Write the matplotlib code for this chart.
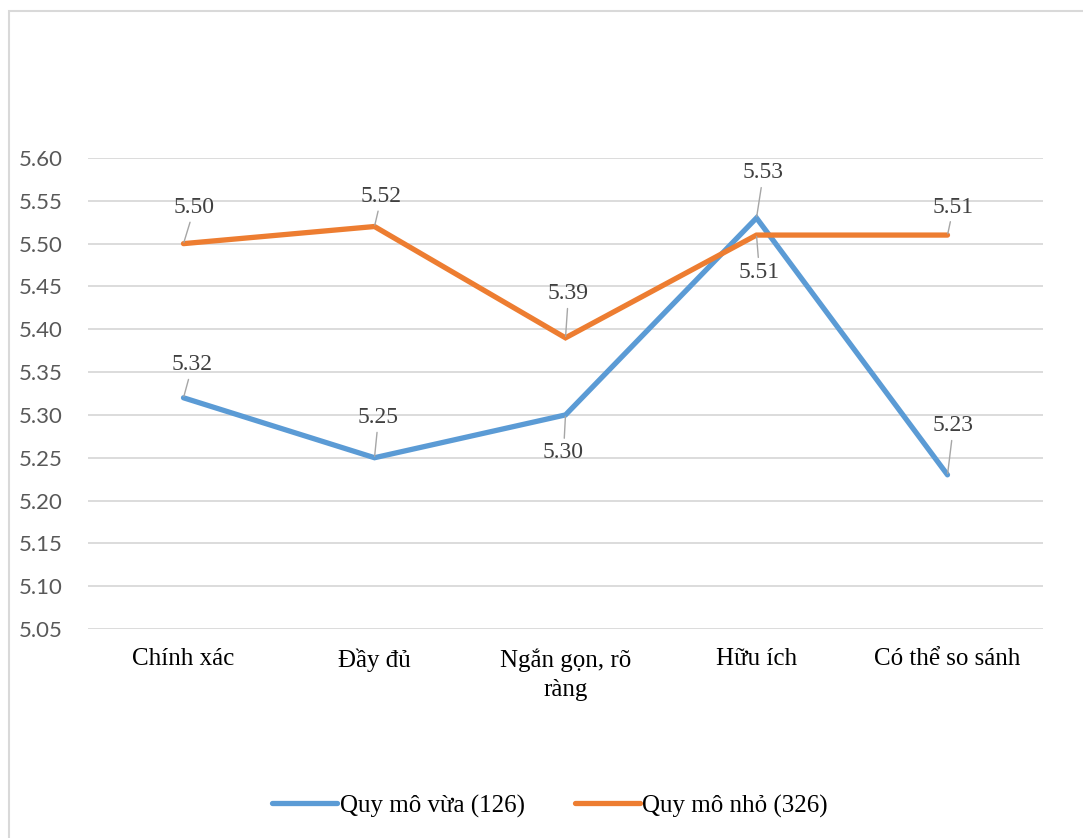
import matplotlib.pyplot as plt
from matplotlib.patches import Rectangle

# Dữ liệu biểu đồ
categories = ["Chính xác", "Đầy đủ", "Ngắn gọn, rõ\nràng", "Hữu ích", "Có thể so sánh"]
quy_mo_vua = [5.32, 5.25, 5.30, 5.53, 5.23]
quy_mo_nho = [5.50, 5.52, 5.39, 5.51, 5.51]
series_names = ["Quy mô vừa (126)", "Quy mô nhỏ (326)"]
y_ticks = [5.05, 5.10, 5.15, 5.20, 5.25, 5.30, 5.35, 5.40, 5.45, 5.50, 5.55, 5.60]

# Vị trí nhãn dữ liệu (pixel, tính từ điểm)
offsets_vua = [(9, 33), (4, 40), (-2, -38), (7, 45), (6, 49)]
offsets_nho = [(11, 36), (7, 30), (3, 44), (3, -37), (6, 28)]

serif = "Liberation Serif"
blue = "#5B9BD5"
orange = "#ED7D31"

fig = plt.figure(figsize=(10.83, 8.38), dpi=100)
ax = fig.add_axes([88 / 1083, 1 - 629 / 838, 955 / 1083, 471 / 838])

# Khung viền của biểu đồ
fig.patches.append(Rectangle((9 / 1083, -0.05), 1.1, 1 - 11 / 838 + 0.05,
                             transform=fig.transFigure, fill=False,
                             edgecolor="#D9D9D9", linewidth=1.5))

x = range(len(categories))
ax.plot(x, quy_mo_vua, color=blue, lw=3.8, solid_capstyle="round",
        solid_joinstyle="miter", label=series_names[0], zorder=3)
ax.plot(x, quy_mo_nho, color=orange, lw=3.8, solid_capstyle="round",
        solid_joinstyle="miter", label=series_names[1], zorder=3)

# Nhãn giá trị với đường dẫn
for values, offs in ((quy_mo_vua, offsets_vua), (quy_mo_nho, offsets_nho)):
    for i, (v, off) in enumerate(zip(values, offs)):
        ax.annotate(f"{v:.2f}", (i, v), xytext=off, textcoords="offset pixels",
                    ha="center", va="center", fontsize=17, family=serif,
                    color="#404040", zorder=4,
                    arrowprops=dict(arrowstyle="-", color="#A6A6A6", lw=1,
                                    shrinkA=1, shrinkB=1))

ax.set_xlim(-0.5, 4.5)
ax.set_ylim(5.05, 5.60)
ax.set_yticks(y_ticks)
ax.set_yticklabels([f"{t:.2f}" for t in y_ticks], family="Lato",
                   fontsize=16, color="#595959")
ax.set_xticks(list(x))
ax.set_xticklabels(categories, family=serif, fontsize=18, color="black",
                   linespacing=1.4)
ax.tick_params(axis="y", length=0, pad=18)
ax.tick_params(axis="x", length=0, pad=14)
ax.grid(axis="y", color="#D9D9D9", lw=1.3)
ax.set_axisbelow(True)
for s in ax.spines.values():
    s.set_visible(False)

fig.legend(loc="center", bbox_to_anchor=(0.508, 1 - 806 / 838), ncol=2,
           frameon=False, prop=dict(family=serif, size=18),
           handlelength=2.6, handletextpad=0.1, columnspacing=2.0)

fig.savefig("out.png", dpi=100)
